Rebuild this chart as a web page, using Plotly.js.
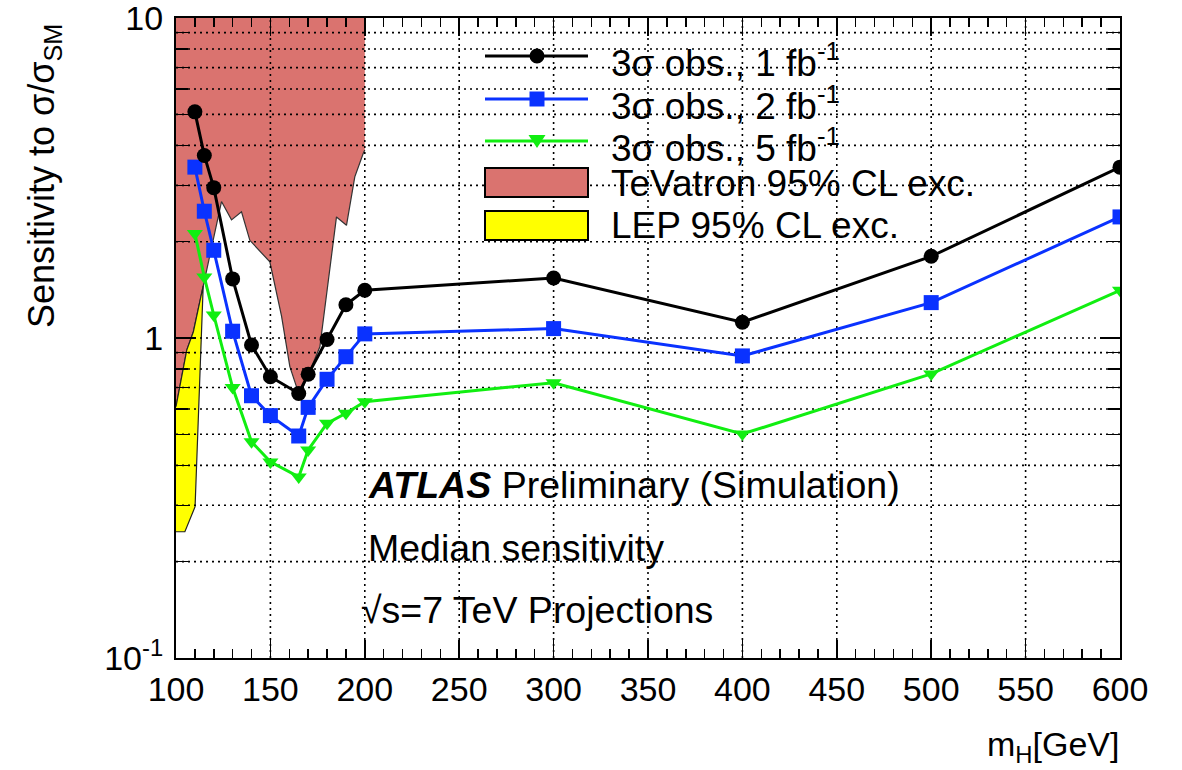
<!DOCTYPE html>
<html><head><meta charset="utf-8">
<script src="https://cdn.plot.ly/plotly-3.0.1.min.js"></script>
<style>body{margin:0;background:#fff}#chart{width:1182px;height:770px}</style>
</head><body><div id="chart"></div>
<script>
// ---- data ----
const massPoints = [110,115,120,130,140,150,165,170,180,190,200,300,400,500,600];
const obs1fb = [5.09,3.72,2.95,1.53,0.951,0.757,0.671,0.770,0.989,1.27,1.41,1.54,1.12,1.80,3.42];
const obs2fb = [3.42,2.49,1.88,1.05,0.660,0.572,0.494,0.607,0.743,0.874,1.03,1.07,0.879,1.29,2.39];
const obs5fb = [2.12,1.55,1.18,0.70,0.474,0.410,0.368,0.447,0.541,0.582,0.632,0.725,0.501,0.772,1.41];

const tevMass  = [100,100,105.7,109.2,114.4,124.1,129.4,134.7,139.1,147.0,149.7,155.9,160.3,163.8,165.6,176.2,180.6,185.0,190.3,194.7,199.2,200,200];
const tevLimit = [10,0.61,0.917,1.046,1.454,2.67,2.34,2.48,2.02,1.80,1.73,1.17,0.814,0.705,0.663,0.939,1.52,2.39,2.25,3.19,3.78,3.87,10];
const lepMass  = [100,104.7,110.1,114.4,109.2,105.7,100];
const lepLimit = [0.248,0.248,0.297,1.454,1.046,0.917,0.61];

const xTickLabels = ['100','150','200','250','300','350','400','450','500','550','600'];
const yTickVals = [0.1,1,10];
const yTickText = ['10<sup>-1</sup>','1','10'];
const yMinorVals = [0.2,0.3,0.4,0.5,0.6,0.7,0.8,0.9,2,3,4,5,6,7,8,9];
const xGridVals = [150,200,250,300,350,400,450,500,550];
const yGridVals = [0.2,0.3,0.4,0.5,0.6,0.7,0.8,0.9,1,2,3,4,5,6,7,8,9];

const legendLabels = ['3σ obs., 1 fb<sup>-1</sup>','3σ obs., 2 fb<sup>-1</sup>','3σ obs., 5 fb<sup>-1</sup>','TeVatron 95% CL exc.','LEP 95% CL exc.'];

// ---- styling ----
const FONT = 'Liberation Sans, Arial, Helvetica, sans-serif';
const RED = '#da736f', YEL = '#ffff00', BLUE = '#0a32ff', GREEN = '#11ee11';
const L = 176, R = 62, T = 18, B = 112, W = 1182, H = 770;
const PW = W - L - R, PH = H - T - B;
const P = px => (px - L) / PW;
const Q = py => (H - B - py) / PH;

// grid lines as traces (so they appear over the filled bands)
const gvx = [], gvy = [];
xGridVals.forEach(v => { gvx.push(v, v, null); gvy.push(0.1, 10, null); });
const ghx = [], ghy = [];
yGridVals.forEach(v => { ghx.push(100, 600, null); ghy.push(v, v, null); });

const traces = [
  {x: tevMass, y: tevLimit, type: 'scatter', mode: 'lines', fill: 'toself', fillcolor: RED,
   line: {width: 0, color: RED}, hoverinfo: 'skip'},
  {x: tevMass.slice(1, -1), y: tevLimit.slice(1, -1), type: 'scatter', mode: 'lines',
   line: {width: 1.2, color: '#333'}, hoverinfo: 'skip'},
  {x: lepMass, y: lepLimit, type: 'scatter', mode: 'lines', fill: 'toself', fillcolor: YEL,
   line: {width: 1.2, color: '#222'}, hoverinfo: 'skip'},
  {x: gvx, y: gvy, type: 'scatter', mode: 'lines', line: {color: '#000', width: 1.6, dash: '2px,4px'}, hoverinfo: 'skip'},
  {x: ghx, y: ghy, type: 'scatter', mode: 'lines', line: {color: '#000', width: 1.6, dash: '2px,4px'}, hoverinfo: 'skip'},
  {x: massPoints, y: obs5fb, type: 'scatter', mode: 'lines+markers', name: legendLabels[2],
   line: {color: GREEN, width: 3}, marker: {symbol: 'triangle-down', size: 14, color: GREEN}},
  {x: massPoints, y: obs2fb, type: 'scatter', mode: 'lines+markers', name: legendLabels[1],
   line: {color: BLUE, width: 3}, marker: {symbol: 'square', size: 15, color: BLUE}},
  {x: massPoints, y: obs1fb, type: 'scatter', mode: 'lines+markers', name: legendLabels[0],
   line: {color: '#000', width: 3}, marker: {symbol: 'circle', size: 15, color: '#000'}}
];

// manual legend
const rowY = [56, 99, 141];
const rowColors = ['#000', BLUE, GREEN];
const shapes = [];
rowY.forEach((y, i) => {
  shapes.push({type: 'line', xref: 'paper', yref: 'paper', x0: P(485), x1: P(588), y0: Q(y), y1: Q(y),
               line: {color: rowColors[i], width: 3}});
});
shapes.push({type: 'circle', xref: 'paper', yref: 'paper', x0: P(529.5), x1: P(544.5), y0: Q(rowY[0] + 7.5), y1: Q(rowY[0] - 7.5),
             fillcolor: '#000', line: {width: 0}});
shapes.push({type: 'rect', xref: 'paper', yref: 'paper', x0: P(529.5), x1: P(544.5), y0: Q(rowY[1] + 7.5), y1: Q(rowY[1] - 7.5),
             fillcolor: BLUE, line: {width: 0}});
shapes.push({type: 'path', xref: 'paper', yref: 'paper',
             path: `M ${P(528.5)} ${Q(rowY[2] - 6)} L ${P(545.5)} ${Q(rowY[2] - 6)} L ${P(537)} ${Q(rowY[2] + 7)} Z`,
             fillcolor: GREEN, line: {width: 0}});
shapes.push({type: 'rect', xref: 'paper', yref: 'paper', x0: P(485), x1: P(588), y0: Q(197), y1: Q(168),
             fillcolor: RED, line: {color: '#000', width: 2}});
shapes.push({type: 'rect', xref: 'paper', yref: 'paper', x0: P(485), x1: P(588), y0: Q(240), y1: Q(211),
             fillcolor: YEL, line: {color: '#000', width: 2}});

const legendTextY = [60, 103, 145, 183, 226];
const annotations = legendLabels.map((t, i) => ({
  text: t, xref: 'paper', yref: 'paper', x: P(609), y: Q(legendTextY[i]), xanchor: 'left', yanchor: 'middle',
  showarrow: false, font: {family: FONT, size: 37, color: '#000'}
}));
const notes = [
  {text: '<b><i>ATLAS</i></b> Preliminary (Simulation)', y: 485},
  {text: 'Median sensitivity', y: 548},
  {text: '√s=7 TeV Projections', y: 610}
];
notes.forEach((n, i) => annotations.push({
  text: n.text, xref: 'paper', yref: 'paper', x: P(i === 2 ? 359 : 366), y: Q(n.y), xanchor: 'left', yanchor: 'middle',
  showarrow: false, font: {family: FONT, size: 37.5, color: '#000'}
}));
annotations.push({text: 'Sensitivity to σ/σ<sub>SM</sub>', xref: 'paper', yref: 'paper', x: P(44), y: Q(176),
  xanchor: 'center', yanchor: 'middle', textangle: -90, showarrow: false, font: {family: FONT, size: 36, color: '#000'}});
annotations.push({text: 'm<sub>H</sub>[GeV]', xref: 'paper', yref: 'paper', x: P(1121), y: Q(746),
  xanchor: 'right', yanchor: 'middle', showarrow: false, font: {family: FONT, size: 34, color: '#000'}});

const layout = {
  width: W, height: H, margin: {l: L, r: R, t: T, b: B}, showlegend: false,
  paper_bgcolor: '#fff', plot_bgcolor: '#fff',
  font: {family: FONT, color: '#000'},
  xaxis: {range: [100, 600], tickmode: 'array', tickvals: xTickLabels.map(Number), ticktext: xTickLabels,
    ticks: 'inside', ticklen: 18, tickwidth: 1.5, tickcolor: '#000',
    minor: {dtick: 10, tick0: 100, ticks: 'inside', ticklen: 9, tickwidth: 1.5, tickcolor: '#000', showgrid: false},
    showline: true, linewidth: 2, linecolor: '#000', mirror: 'allticks', showgrid: false, zeroline: false,
    ticklabeloverflow: 'allow',
    tickfont: {family: FONT, size: 34, color: '#000'}, layer: 'above traces'},
  yaxis: {type: 'log', range: [-1.0001, 1.0001], tickmode: 'array', tickvals: yTickVals, ticktext: yTickText,
    ticks: 'inside', ticklen: 20, tickwidth: 1.5, tickcolor: '#000',
    minor: {tickmode: 'array', tickvals: yMinorVals, ticks: 'inside', ticklen: 12, tickwidth: 1.5, tickcolor: '#000', showgrid: false},
    showline: true, linewidth: 2, linecolor: '#000', mirror: 'allticks', showgrid: false, zeroline: false,
    ticklabeloverflow: 'allow',
    tickfont: {family: FONT, size: 34, color: '#000'}, ticklabelstandoff: 4, layer: 'above traces'},
  shapes: shapes, annotations: annotations
};

Plotly.newPlot('chart', traces, layout, {displayModeBar: false, staticPlot: true});
</script>
</body></html>
